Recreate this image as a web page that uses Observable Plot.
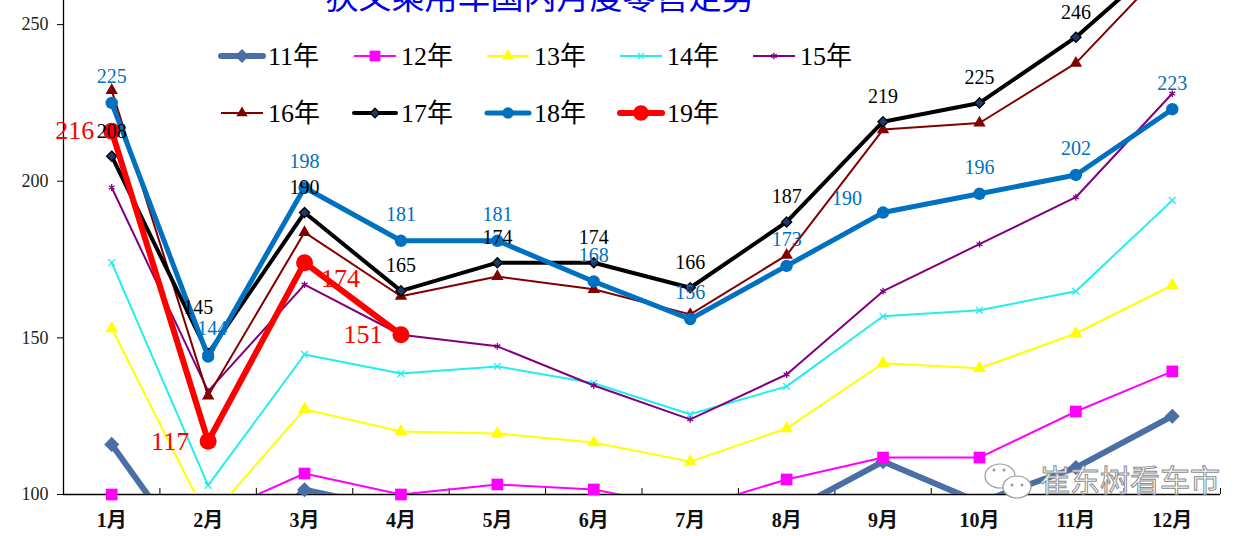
<!DOCTYPE html>
<html><head><meta charset="utf-8">
<script src="https://cdn.jsdelivr.net/npm/d3@7"></script>
<script src="https://cdn.jsdelivr.net/npm/@observablehq/plot@0.6"></script>
<style>
html,body{margin:0;padding:0;background:#fff;overflow:hidden}
#wrap{position:relative;width:1260px;height:536px;overflow:hidden;background:#fff}
#wrap svg{position:absolute;left:0;top:0}
#title{position:absolute;left:0;width:1080px;text-align:center;top:-21px;font-family:"Noto Sans CJK SC";font-size:33px;line-height:33px;color:#0000E6;z-index:3}
#wm{position:absolute;left:1040px;top:461px;font-family:"Noto Sans CJK SC";font-size:30px;line-height:34px;color:#fff;-webkit-text-stroke:1px #8c8c8c;letter-spacing:0px;z-index:4}
</style></head>
<body><div id="wrap"><div id="title">狭义乘用车国内月度零售走势</div><div id="wm">崔东树看车市</div></div>
<script>
const months = ["1月","2月","3月","4月","5月","6月","7月","8月","9月","10月","11月","12月"];
const yTicks = [100, 150, 200, 250];
const seriesNames = ["11年","12年","13年","14年","15年","16年","17年","18年","19年"];
const y11 = [116, 73, 101.5, 95, 94, 92, 85, 94, 110.5, 97.5, 108.6, 125];
const y12 = [100, 93, 106.7, 100, 103.2, 101.6, 95.5, 104.8, 111.8, 111.8, 126.5, 139.3];
const y13 = [153, 92, 127.2, 120.1, 119.5, 116.6, 110.5, 121.1, 141.9, 140.3, 151.4, 166.8];
const y14 = [174, 102.9, 144.7, 138.6, 140.9, 135.5, 125.6, 134.5, 156.9, 158.8, 164.9, 193.9];
const y15 = [198, 133, 167, 151, 147.3, 134.8, 124, 138.3, 164.9, 179.9, 194.9, 228];
const y16 = [229, 131.5, 183.7, 163.3, 169.6, 165.5, 157.5, 176.4, 216.5, 218.6, 237.7, 270];
const y17 = [208, 145, 190, 165, 174, 174, 166, 187, 219, 225, 246, 273];
const y18 = [225, 144, 198, 181, 181, 168, 156, 173, 190, 196, 202, 223];
const y19 = [216, 117, 174, 151];
const allValues = [y11, y12, y13, y14, y15, y16, y17, y18, y19];

// styles (not data)
const styles = {
  "11年": {color:"#4A6FA5", w:6, symbol:"diamond2", r:6.8, fill:"#4A6FA5", stroke:"none"},
  "12年": {color:"#FF00FF", w:2, symbol:"square", r:6.6, fill:"#FF00FF", stroke:"none"},
  "13年": {color:"#FFFF00", w:2, symbol:"triangle", r:4.8, fill:"#FFFF00", stroke:"none"},
  "14年": {color:"#22EEEE", w:2, symbol:"times", r:3.2, fill:"none", stroke:"#22EEEE"},
  "15年": {color:"#800080", w:2, symbol:"asterisk", r:3.2, fill:"none", stroke:"#800080"},
  "16年": {color:"#800000", w:2, symbol:"triangle", r:4.6, fill:"#800000", stroke:"none"},
  "17年": {color:"#000000", w:4, symbol:"diamond2", r:4.6, fill:"#1F3864", stroke:"#000"},
  "18年": {color:"#0070C0", w:5, symbol:"circle", r:6.2, fill:"#0070C0", stroke:"none"},
  "19年": {color:"#FF0000", w:6, symbol:"circle", r:8.5, fill:"#FF0000", stroke:"none"}
};
const labelSpec = {
  "17年": {fill:"#000", size:20, show:[1,2,3,4,5,6,7,8,9,10,11], def:[0,-25], special:{2:[-10,-46]}},
  "18年": {fill:"#0070C0", size:20, show:[1,2,3,4,5,6,7,8,9,10,11,12], def:[0,-26], special:{2:[4,-28], 9:[-36,-14]}},
  "19年": {fill:"#FF0000", size:26, show:[1,2,3,4], def:[0,0], special:{1:[-37,0], 2:[-38,0], 3:[36,16], 4:[-38,0]}}
};

const YMIN = 100, YMAX = 257.7;
const serif = '"Liberation Serif","Noto Sans CJK SC",serif';

const series = seriesNames.map((name, i) => ({
  name,
  points: allValues[i].map((v, j) => ({m: j + 1, v, name}))
}));

const marks = [];
marks.push(Plot.ruleY([YMIN], {stroke:"#000", strokeWidth:1.3}));
marks.push(Plot.ruleX([0.5], {stroke:"#000", strokeWidth:1.3}));
marks.push(Plot.axisY({ticks:yTicks, tickSize:6, tickPadding:9, label:null, fill:"#222", fontSize:18}));
marks.push(Plot.axisX({ticks:d3.range(1.5, 13, 1), tickSize:-6, tickFormat:() => "", label:null}));
marks.push(Plot.axisX({ticks:d3.range(1, 13), tickSize:0, tickPadding:18, tickFormat:d => months[d - 1], label:null, fill:"#111", fontSize:20, fontWeight:"bold"}));

for (const s of series) {
  const st = styles[s.name];
  marks.push(Plot.line(s.points, {x:"m", y:"v", stroke:st.color, strokeWidth:st.w, clip:true, strokeLinejoin:"round"}));
  marks.push(Plot.dot(s.points.filter(d => d.v >= YMIN - 0.5 && d.v <= YMAX), {
    x:"m", y:"v", symbol:st.symbol, r:st.r, fill:st.fill, stroke:st.stroke, strokeWidth: st.stroke === "none" ? 0 : 1.3
  }));
}

for (const name of Object.keys(labelSpec)) {
  const spec = labelSpec[name];
  const s = series.find(d => d.name === name);
  for (const m of spec.show) {
    const p = s.points[m - 1];
    const [dx, dy] = spec.special[m] || spec.def;
    marks.push(Plot.text([p], {x:"m", y:"v", text:d => String(Math.round(d.v)), dx, dy, fill:spec.fill, fontSize:spec.size, fontFamily:serif}));
  }
}

const chart = Plot.plot({
  width:1260, height:536,
  marginLeft:63, marginRight:40, marginTop:0, marginBottom:42,
  x:{type:"linear", domain:[0.5, 12.5], axis:null},
  y:{domain:[YMIN, YMAX], axis:null},
  style:{background:"transparent", fontFamily:serif, overflow:"visible"},
  marks
});
document.getElementById("wrap").appendChild(chart);

// legend overlay
const leg = d3.select("#wrap").append("svg")
  .attr("width", 1260).attr("height", 536)
  .style("position","absolute").style("left","0").style("top","0").style("pointer-events","none");
const symMap = {diamond2:d3.symbolDiamond2, square:d3.symbolSquare, triangle:d3.symbolTriangle, times:d3.symbolTimes, asterisk:d3.symbolAsterisk, circle:d3.symbolCircle};
seriesNames.forEach((name, i) => {
  const st = styles[name];
  const row = i < 5 ? 0 : 1, col = i < 5 ? i : i - 5;
  const x0 = 221 + col * 133, y0 = 56 + row * 57;
  const g = leg.append("g").attr("transform", `translate(${x0},${y0})`);
  g.append("line").attr("x1", 0).attr("x2", 42).attr("y1", 0).attr("y2", 0)
    .attr("stroke", st.color).attr("stroke-width", st.w).attr("stroke-linecap", st.w >= 4 ? "round" : "butt");
  const size = Math.PI * st.r * st.r * 0.85;
  g.append("path").attr("transform", "translate(21,0)")
    .attr("d", d3.symbol(symMap[st.symbol], size)())
    .attr("fill", st.fill).attr("stroke", st.stroke === "none" ? null : st.stroke).attr("stroke-width", 1.3);
  g.append("text").attr("x", 47).attr("y", 0).attr("dy", "0.36em")
    .attr("font-family", serif).attr("font-size", 26).attr("fill", "#000").text(name);
});

// WeChat icon near watermark
const ic = leg.append("g").attr("fill", "#fff").attr("stroke", "#9a9a9a").attr("stroke-width", 1.2);
ic.append("ellipse").attr("cx", 1000).attr("cy", 476).attr("rx", 15).attr("ry", 12);
ic.append("ellipse").attr("cx", 1017).attr("cy", 487).attr("rx", 14).attr("ry", 11);
[[994,470],[1004,470],[1012,485],[1022,485]].forEach(([cx,cy]) => ic.append("circle").attr("cx",cx).attr("cy",cy).attr("r",1.5).attr("fill","#9a9a9a").attr("stroke","none"));
</script>
</body></html>
